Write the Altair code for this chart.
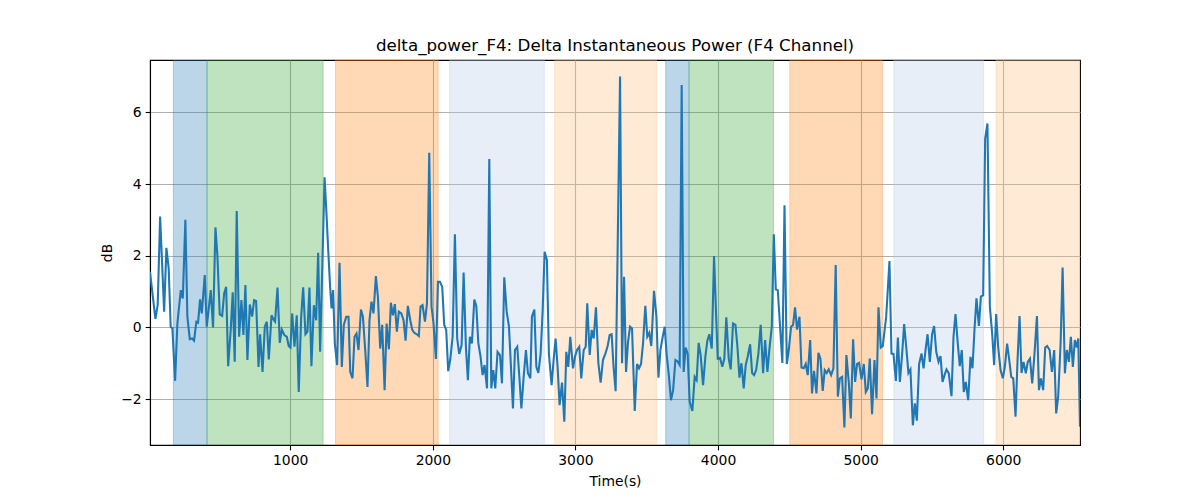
import altair as alt
import pandas as pd

TITLE = "delta_power_F4: Delta Instantaneous Power (F4 Channel)"

# (time in s, delta power in dB), in segments
seg_a = [(17, 1.55), (41, 0.72), (55, 0.24), (71, 0.63), (88, 3.09), (116, 0.44), (132, 2.22), (148, 1.65),
         (162, 0.02), (174, -0.03), (193, -1.49), (209, 0.11), (233, 1.04), (247, 0.81), (265, 3.0), (279, 0.3),
         (296, -0.33), (312, -0.31), (326, -0.37), (342, 0.16), (354, 0.13), (368, 0.78), (380, 0.39), (401, 1.46),
         (415, 0.02), (443, 1.04), (459, 0.0), (476, 2.79), (490, 1.97), (506, 0.36), (523, 0.32), (537, 0.95),
         (551, 1.13), (565, -1.08), (583, -0.07), (597, 0.98), (611, -0.96), (625, 3.25), (642, -0.26), (658, 0.76),
         (672, -0.21), (686, 1.18), (700, -0.91), (717, 0.64), (733, 0.30), (747, 0.76), (761, 0.74), (778, -1.1),
         (789, -0.19), (806, -1.24), (822, 0.02), (836, 0.16), (850, -0.89), (869, 0.34), (883, 0.22), (894, 0.16),
         (911, 1.11), (927, -0.43), (941, -0.06)]
seg_b = [(960, -0.22), (976, -0.26), (990, -0.52), (1002, -0.56), (1014, 0.39), (1030, -0.54), (1046, 0.34),
         (1060, -1.8), (1077, 0.3), (1091, 1.12), (1107, -0.19), (1121, -0.12), (1135, 1.11), (1149, -1.08),
         (1166, 0.62), (1182, 0.2), (1196, 2.08), (1210, -0.68), (1241, 4.19), (1252, 3.37), (1269, 1.97),
         (1280, 1.13), (1290, 0.53), (1301, 1.04), (1313, -0.45), (1329, -1.05), (1346, 1.8), (1362, -1.1),
         (1376, 0.07), (1393, 0.3), (1409, 0.3), (1421, -1.24), (1437, -1.42), (1451, -0.26), (1465, -0.17),
         (1479, -0.63), (1496, 0.5), (1510, 0.3), (1526, -0.63), (1542, -1.66), (1556, 0.2), (1570, 0.72),
         (1584, 0.39), (1601, 1.43), (1615, 0.86), (1631, -0.59), (1645, 0.07), (1662, -1.75), (1676, 0.11),
         (1692, -0.61), (1706, 0.69), (1720, 0.34), (1734, 0.65), (1748, -0.12), (1762, 0.44), (1779, 0.39),
         (1795, 0.2), (1809, -0.37), (1825, 0.6), (1842, 0.2), (1856, -0.07)]
seg_c = [(1870, -0.15), (1888, -0.19), (1902, -0.24), (1914, 0.58), (1928, 0.62), (1945, 0.16), (1959, 0.67),
         (1975, 4.87), (1991, 0.58), (2005, 0.11), (2022, -0.88), (2036, 1.27), (2050, 1.27), (2066, 1.13),
         (2080, 0.07), (2094, -0.07), (2108, -1.22), (2122, -0.91), (2139, -0.26), (2155, 2.6), (2171, -0.31),
         (2185, -0.74), (2202, -0.49), (2216, 1.53), (2232, -0.54), (2246, -1.47), (2260, -0.26), (2274, -0.45),
         (2291, 0.78), (2305, 0.6), (2319, -0.43), (2335, -0.82), (2349, -1.33), (2363, -1.05), (2380, -1.7),
         (2396, 4.7), (2410, -1.7), (2424, -1.19), (2438, -1.7), (2454, -0.68), (2471, -0.77), (2485, -1.56),
         (2501, 1.4), (2518, 0.44), (2534, 0.02), (2548, -1.1), (2562, -2.26), (2576, -0.63), (2592, -0.54),
         (2606, -1.33), (2621, -2.26), (2637, -1.38), (2653, -0.63), (2667, -1.28), (2684, -1.42), (2695, 0.3),
         (2712, 0.5), (2726, -1.1), (2740, -1.27), (2756, -0.73), (2770, 0.44), (2784, 2.11), (2794, 1.97)]
seg_d = [(2800, 1.88), (2814, -0.73), (2833, -1.61), (2847, -0.91), (2861, -0.31), (2875, -1.1), (2889, -2.17),
         (2906, -1.54), (2922, -2.63), (2936, -0.68), (2950, -1.1), (2964, -0.26), (2983, -1.14), (2997, -0.82),
         (3011, -0.63), (3027, -0.54), (3041, -1.42), (3058, -0.63), (3072, -0.54), (3083, 0.67), (3100, -0.77),
         (3114, -0.07), (3128, -0.31), (3144, 0.56), (3161, -1.0), (3177, -1.54), (3193, -0.91), (3210, -0.73),
         (3226, -0.52), (3240, -0.21), (3254, -0.19), (3268, -1.14), (3282, -1.78), (3313, 7.0), (3327, -1.0),
         (3341, 1.41), (3355, -1.24), (3369, -0.4), (3383, 0.02), (3397, -0.03), (3416, -2.33), (3432, -1.02),
         (3446, -1.14), (3460, -1.02), (3474, -0.45), (3490, 0.6), (3504, -0.26), (3518, -0.15), (3532, -0.52),
         (3551, 1.02), (3568, 0.3), (3582, -1.4), (3596, -0.63), (3612, -0.26), (3626, 0.02), (3640, -0.77),
         (3656, -1.38), (3670, -2.03), (3685, -1.75), (3701, -0.91)]
seg_e = [(3717, -0.95), (3731, -1.05), (3745, 6.76), (3759, -1.24), (3773, -0.56), (3787, -0.73), (3801, -2.07),
         (3820, -2.33), (3836, -1.38), (3850, -1.47), (3864, -0.43), (3878, -0.77), (3895, -1.61), (3911, -0.82),
         (3925, -0.37), (3939, -0.19), (3956, -0.59), (3972, 1.99), (3986, 0.39), (3998, -0.87), (4014, -0.85),
         (4030, -1.1), (4044, -0.87), (4058, 0.28), (4075, -0.87), (4089, -1.17), (4105, 0.11), (4122, 0.07),
         (4136, -0.54), (4150, -1.4), (4164, -1.0), (4180, -1.7), (4194, -1.05), (4208, -0.82), (4225, -0.47),
         (4239, -1.27), (4253, -1.33), (4267, -1.19), (4283, -0.73), (4299, 0.07), (4316, -1.28), (4330, -0.35),
         (4346, -1.24), (4360, -0.61), (4377, 0.02), (4391, 2.6), (4405, 1.06), (4419, 1.04), (4435, 0.02),
         (4451, -0.99), (4466, 3.41), (4482, -1.02), (4496, -0.63), (4512, 0.02), (4526, 0.07), (4540, 0.56),
         (4554, -0.06), (4571, 0.3), (4585, -1.12), (4601, -1.14), (4615, -1.02), (4629, -1.33), (4646, -0.35)]
seg_f = [(4659, -1.84), (4673, -1.21), (4690, -1.84), (4704, -0.71), (4718, -0.87), (4734, -1.77), (4748, -1.19),
         (4762, -1.27), (4776, -1.17), (4793, -1.33), (4809, -1.14), (4825, 1.74), (4840, -1.93), (4854, -1.42),
         (4870, -1.38), (4886, -2.79), (4900, -0.77), (4917, -1.54), (4931, -2.54), (4947, -0.33), (4961, -1.52),
         (4975, -1.02), (4989, -0.99), (5006, -1.45), (5022, -1.02), (5036, -1.8), (5050, -1.7), (5064, -0.87),
         (5080, -2.42), (5097, -0.91), (5111, -1.98), (5125, 0.56), (5141, -0.56), (5155, -0.52), (5179, 0.3),
         (5202, 1.85), (5216, -0.73), (5230, -0.74), (5247, -1.49), (5261, -0.28), (5275, -1.52), (5291, -0.73),
         (5305, 0.09), (5321, -0.61), (5335, -1.27), (5349, -1.17), (5366, -2.73), (5380, -2.12), (5394, -2.6),
         (5410, -1.02), (5427, -0.73), (5441, -1.14), (5455, -0.63), (5469, -0.19), (5485, -0.96), (5501, -0.19),
         (5515, 0.04), (5530, -0.68), (5546, -0.96), (5560, -0.8)]
seg_g = [(5574, -1.52), (5588, -1.33), (5602, -1.17), (5618, -1.28), (5637, -1.92), (5651, -0.26), (5665, 0.37),
         (5681, -0.45), (5695, -1.08), (5709, -0.63), (5723, -1.8), (5737, -1.52), (5754, -2.03), (5770, -0.82),
         (5784, -1.14), (5798, -0.07), (5812, 0.81), (5829, 0.04), (5843, 0.86), (5859, 0.9), (5873, 5.27),
         (5889, 5.69), (5906, 0.58), (5922, -0.17), (5936, -1.05), (5950, 0.37), (5964, -0.54), (5981, -1.19),
         (5997, -1.42), (6011, -1.1), (6027, -0.45), (6042, -0.91), (6056, -1.38), (6070, -1.42), (6086, -2.49),
         (6100, -0.91), (6114, 0.32), (6128, -1.27), (6142, -0.96), (6158, -1.28), (6172, -0.96), (6187, -0.87),
         (6203, -1.56), (6219, -0.73), (6236, 0.32), (6250, -1.75), (6264, -1.42), (6280, -1.75), (6294, -0.56),
         (6308, -0.52), (6325, -0.63), (6341, -1.24), (6357, -0.63), (6371, -2.4), (6385, -1.93), (6402, -0.45),
         (6416, 1.67), (6432, -1.28), (6446, -0.63), (6460, -0.96), (6474, -0.26), (6488, -1.1), (6502, -0.35),
         (6516, -0.56), (6526, -0.31), (6538, -2.77)]

# shaded intervals (start s, end s, kind)
span_start = [181, 417, 1318, 2118, 2854, 3633, 3797, 4503, 5233, 5949]
span_end = [417, 1231, 2038, 2782, 3568, 3797, 4389, 5153, 5862, 6600]
span_kind = ["blue", "green", "orange", "lightblue", "lightorange",
             "blue", "green", "orange", "lightblue", "lightorange"]
kind_names = ["blue", "green", "orange", "lightblue", "lightorange"]
kind_colors = ["#1f77b4", "#2ca02c", "#ff7f0e", "#aec7e8", "#ffbb78"]

x_ticks = [1000, 2000, 3000, 4000, 5000, 6000]
y_ticks = [-2, 0, 2, 4, 6]
x_domain = [17, 6538]
y_domain = [-3.28, 7.46]

points = seg_a + seg_b + seg_c + seg_d + seg_e + seg_f + seg_g
line_df = pd.DataFrame(points, columns=["t", "db"])
span_df = pd.DataFrame({"start": span_start, "end": span_end, "kind": span_kind})

W, H = 930, 385
FONT = "DejaVu Sans"

xscale = alt.Scale(domain=x_domain, nice=False, zero=False)
yscale = alt.Scale(domain=y_domain, nice=False, zero=False)
cscale = alt.Scale(domain=kind_names, range=kind_colors)

spans = alt.Chart(span_df).mark_rect(fillOpacity=0.3, strokeOpacity=0.3, strokeWidth=1, clip=True).encode(
    x=alt.X("start:Q", scale=xscale,
            axis=alt.Axis(values=x_ticks, title="Time(s)", grid=True, format="d")),
    x2="end:Q",
    y=alt.value(0),
    y2=alt.value(H),
    fill=alt.Fill("kind:N", scale=cscale, legend=None),
    stroke=alt.Stroke("kind:N", scale=cscale, legend=None),
)

line = alt.Chart(line_df).mark_line(color="#1f77b4", strokeWidth=2.08, clip=True).encode(
    x=alt.X("t:Q", scale=xscale),
    y=alt.Y("db:Q", scale=yscale, axis=alt.Axis(values=y_ticks, title="dB", grid=True)),
)

chart = alt.layer(spans, line).properties(
    width=W, height=H,
    title=alt.TitleParams(TITLE, font=FONT, fontSize=16.7, fontWeight="normal", color="black",
                          anchor="middle", offset=-8, baseline="alphabetic"),
    autosize=alt.AutoSizeParams(type="none"),
    padding={"left": 142, "top": 52, "right": 112, "bottom": 47},
).configure_view(
    stroke="black", strokeWidth=1.1
).configure_axis(
    labelFont=FONT, labelFontSize=13.9, labelColor="black",
    titleFont=FONT, titleFontSize=13.9, titleFontWeight="normal", titleColor="black",
    tickColor="black", tickSize=4.86, tickWidth=1.1, labelPadding=4.0,
    domainColor="black", domainWidth=1.1,
    gridColor="#b0b0b0", gridWidth=1.1,
).configure_axisX(titlePadding=7).configure_axisY(titlePadding=6)

chart.save("out.html", embed_options={"renderer": "svg", "actions": False})
